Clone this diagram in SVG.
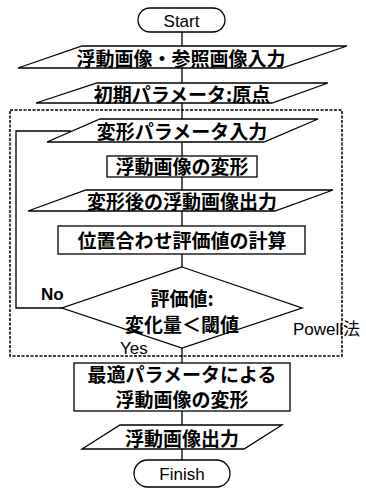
<svg xmlns="http://www.w3.org/2000/svg" width="366" height="490" viewBox="0 0 366 490">
<style>
.s{fill:#fff;stroke:#000;stroke-width:1.3}
.j{font-family:"Noto Sans CJK JP","Noto Sans",sans-serif;font-weight:bold;font-size:19px;text-anchor:middle;fill:#000}
.l{font-family:"Liberation Sans",Arial,"Noto Sans CJK JP",sans-serif;font-size:17px;fill:#000}
.c{fill:none;stroke:#000;stroke-width:1.3}
</style>
<rect width="366" height="490" fill="#fff"/>
<g id="loop-frame">
<rect x="10" y="110" width="332" height="246" fill="none" stroke="#000" stroke-width="1.5" stroke-dasharray="3,1.5"/>
<text class="l" x="293" y="335" font-size="18">Powell法</text>
</g>
<g id="connectors">
<path class="c" d="M182 32V46M182 68V83M182 103V119M182 142V156M182 177V190M182 211V226M182 254V267M182 348V363M182 411V425M182 449V460"/>
<path class="c" d="M62 308H16V131H71"/>
<text class="l" x="41" y="300" font-weight="bold">No</text>
<text class="l" x="120" y="354" font-size="16">Yes</text>
</g>
<g id="start">
<rect class="s" x="138" y="8" width="87" height="24" rx="12"/>
<text class="l" x="181.5" y="27" text-anchor="middle" font-size="18">Start</text>
</g>
<g id="input-images">
<polygon class="s" points="82,46 347,46 282,68 18,68"/>
<text class="j" x="181" y="66">浮動画像・参照画像入力</text>
</g>
<g id="init-params">
<polygon class="s" points="97,83 328,83 272,103 36,103"/>
<text class="j" x="182" y="102">初期パラメータ:原点</text>
</g>
<g id="param-input">
<polygon class="s" points="100,119 318,119 264,142 47,142"/>
<text class="j" x="182" y="139">変形パラメータ入力</text>
</g>
<g id="transform">
<rect class="s" x="107" y="156" width="150" height="21"/>
<text class="j" x="182" y="174">浮動画像の変形</text>
</g>
<g id="transformed-output">
<polygon class="s" points="86,190 333,190 275,211 28,211"/>
<text class="j" x="182" y="209">変形後の浮動画像出力</text>
</g>
<g id="evaluate">
<rect class="s" x="58" y="226" width="247" height="28"/>
<text class="j" x="182" y="248">位置合わせ評価値の計算</text>
</g>
<g id="decision">
<polygon class="s" points="182,267 302,308 182,348 62,308"/>
<text class="j" font-size="20"><tspan x="182" y="306">評価値:</tspan><tspan x="182" y="332">変化量＜閾値</tspan></text>
</g>
<g id="final-transform">
<rect class="s" x="74" y="363" width="216" height="48"/>
<text class="j" font-size="18"><tspan x="182" y="382">最適パラメータによる</tspan><tspan x="182" y="407">浮動画像の変形</tspan></text>
</g>
<g id="output">
<polygon class="s" points="120,425 282,425 244,449 82,449"/>
<text class="j" x="182" y="446">浮動画像出力</text>
</g>
<g id="finish">
<rect class="s" x="134" y="460" width="96" height="27" rx="13.5"/>
<text class="l" x="182" y="480" text-anchor="middle" font-size="18">Finish</text>
</g>
</svg>
